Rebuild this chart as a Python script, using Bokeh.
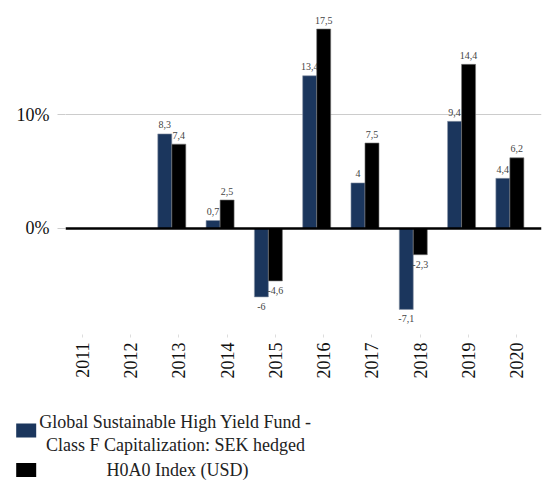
import math
from bokeh.plotting import figure
from bokeh.models import ColumnDataSource, Range1d, FixedTicker, Span
from bokeh.core.properties import value
from bokeh.embed import file_html
from bokeh.resources import INLINE

# ---- data ----
years = [2011, 2012, 2013, 2014, 2015, 2016, 2017, 2018, 2019, 2020]
fund = [None, None, 8.3, 0.7, -6.0, 13.4, 4.0, -7.1, 9.4, 4.4]
index = [None, None, 7.4, 2.5, -4.6, 17.5, 7.5, -2.3, 14.4, 6.2]
y_ticks = [0, 10]
y_tick_labels = {0: "0%", 10: "10%"}
fund_name = ["Global Sustainable High Yield Fund -", "Class F Capitalization: SEK hedged"]
index_name = "H0A0 Index (USD)"

FUND_COLOR = "#1b365d"
INDEX_COLOR = "#000000"
SERIF = "Liberation Serif"
BAR_W = 0.29


def fmt(v):
    if float(v).is_integer():
        return str(int(v))
    return ("%g" % v).replace(".", ",")


def series(vals, shift):
    xs, tops, pos_x, pos_y, pos_t, neg_x, neg_y, neg_t = [], [], [], [], [], [], [], []
    for yr, v in zip(years, vals):
        if v is None:
            continue
        xs.append(yr + shift)
        tops.append(v)
        if v >= 0:
            pos_x.append(yr + shift); pos_y.append(v); pos_t.append(fmt(v))
        else:
            neg_x.append(yr + shift); neg_y.append(v); neg_t.append(fmt(v))
    return (ColumnDataSource(dict(x=xs, top=tops)),
            ColumnDataSource(dict(x=pos_x, y=pos_y, t=pos_t)),
            ColumnDataSource(dict(x=neg_x, y=neg_y, t=neg_t)))


p = figure(width=545, height=398, output_backend="svg", toolbar_location=None,
           x_range=Range1d(2010.654, 2020.51), y_range=Range1d(-9.30, 18.95),
           min_border_left=65, min_border_right=4, min_border_top=12, min_border_bottom=64)
p.outline_line_color = None
p.background_fill_color = "white"
p.border_fill_color = "white"

for vals, shift, color, edge in [(fund, -BAR_W, FUND_COLOR, "#8d97a8"), (index, 0.0, INDEX_COLOR, "#777777")]:
    bars, pos, neg = series(vals, shift)
    p.vbar(x="x", top="top", bottom=0, width=BAR_W, source=bars,
           fill_color=color, line_color=edge, line_width=0.6)
    p.text(x="x", y="y", text="t", source=pos, text_align="center",
           text_baseline="alphabetic", y_offset=-9, text_font=value(SERIF),
           text_font_size="10px", text_color="#444444")
    p.text(x="x", y="y", text="t", source=neg, text_align="center",
           text_baseline="top", y_offset=6, text_font=value(SERIF),
           text_font_size="10px", text_color="#444444")

p.add_layout(Span(location=0, dimension="width", line_color="black", line_width=2.5))

# y axis
p.yaxis.ticker = FixedTicker(ticks=y_ticks)
p.yaxis.major_label_overrides = y_tick_labels
p.yaxis.axis_line_color = None
p.yaxis.major_tick_in = 0
p.yaxis.major_tick_out = 8
p.yaxis.major_tick_line_color = "#cccccc"
p.yaxis.minor_tick_line_color = None
p.yaxis.major_label_standoff = 8
p.yaxis.major_label_text_font = SERIF
p.yaxis.major_label_text_font_size = "18px"
p.yaxis.major_label_text_color = "#111111"

# x axis
p.xaxis.ticker = FixedTicker(ticks=years)
p.xaxis.axis_line_color = None
p.xaxis.major_tick_in = 0
p.xaxis.major_tick_out = 3
p.xaxis.major_tick_line_color = "#dddddd"
p.xaxis.minor_tick_line_color = None
p.xaxis.major_label_orientation = math.pi / 2
p.xaxis.major_label_standoff = 5
p.xaxis.major_label_text_font = SERIF
p.xaxis.major_label_text_font_size = "18px"
p.xaxis.major_label_text_color = "#111111"

p.xgrid.grid_line_color = None
p.ygrid.ticker = FixedTicker(ticks=[10])
p.ygrid.grid_line_color = "#cccccc"

# legend figure (pixel coordinates, y downward), separate root so no frame alignment
lg = figure(width=545, height=84, output_backend="svg", toolbar_location=None,
            x_axis_type=None, y_axis_type=None,
            x_range=Range1d(0, 545), y_range=Range1d(84, 0),
            min_border=0, min_border_left=0, min_border_right=0,
            min_border_top=0, min_border_bottom=0)
lg.grid.visible = False
lg.outline_line_color = None
lg.rect(x=[25.7, 25.7], y=[32, 71.5], width=20, height=14,
        fill_color=[FUND_COLOR, INDEX_COLOR], line_color=None)
lg.text(x=[175, 175, 177], y=[23.5, 46, 71.5], text=fund_name + [index_name],
        text_align="center", text_baseline="middle", text_font=value(SERIF),
        text_font_size="18px", text_color="#222222")

open("out.html", "w").write(file_html([p, lg], INLINE))
